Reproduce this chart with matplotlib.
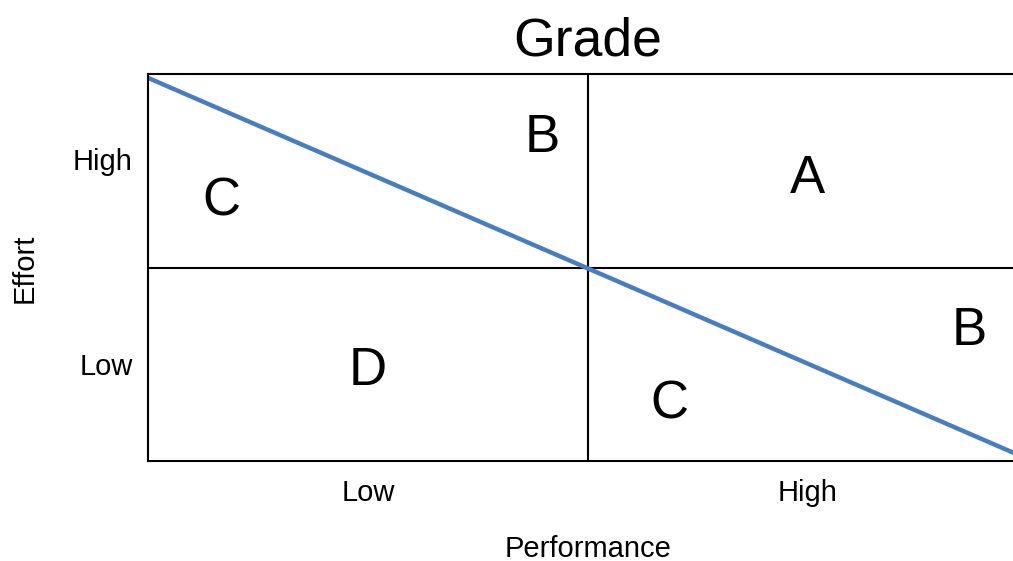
import matplotlib
matplotlib.use("Agg")
import matplotlib.pyplot as plt

plt.rcParams['font.family'] = ['Liberation Sans', 'DejaVu Sans']

# data
x_tick_labels = ["Low", "High"]
y_tick_labels = ["Low", "High"]
grade_letters = ["C", "B", "A", "D", "C", "B"]
letter_x = [0.166, 0.895, 1.498, 0.5, 1.184, 1.866]
letter_y = [1.34, 1.67, 1.455, 0.465, 0.29, 0.67]
line_x = [0.0, 2.0]
line_y = [1.98, 0.01]

fig = plt.figure(figsize=(10.13, 5.61), dpi=100)
W, H = 1013, 561
ax = fig.add_axes([148 / W, (H - 461) / H, 880 / W, (461 - 74) / H])
ax.set_xlim(0, 2)
ax.set_ylim(0, 2)

ax.axvline(1, color='black', lw=1.5)
ax.axhline(1, color='black', lw=1.5)
for s in ['left', 'top', 'bottom', 'right']:
    ax.spines[s].set_linewidth(1.5)
    ax.spines[s].set_color('black')

ax.plot(line_x, line_y, color='#4A7EBB', lw=3.2, solid_capstyle='butt', clip_on=False)

for t, x, y in zip(grade_letters, letter_x, letter_y):
    ax.text(x, y, t, ha='center', va='center', fontsize=38)

ax.set_xticks([0.5, 1.5])
ax.set_xticklabels(x_tick_labels, fontsize=21)
ax.set_yticks([0.5, 1.56])
ax.set_yticklabels(y_tick_labels, fontsize=21)
ax.tick_params(axis='x', length=0, pad=13)
ax.tick_params(axis='y', length=0, pad=11)

fig.text(588 / W, 1 - 549 / H, "Performance", ha='center', va='center', fontsize=21)
fig.text(25 / W, 1 - 268 / H, "Effort", ha='center', va='center', rotation=90, fontsize=21)
fig.text(588 / W, 1 - 55 / H, "Grade", ha='center', va='baseline', fontsize=38.5)

fig.savefig("out.png", dpi=100)
